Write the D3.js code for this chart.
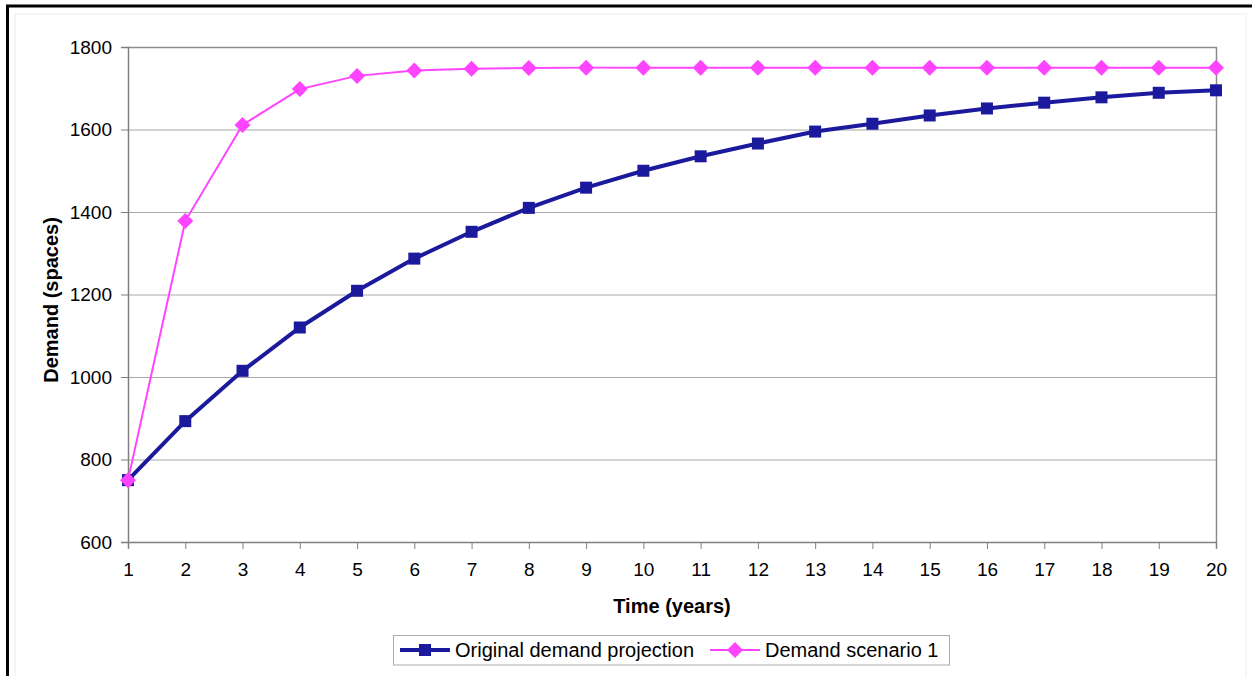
<!DOCTYPE html>
<html><head><meta charset="utf-8">
<script src="https://cdn.jsdelivr.net/npm/d3@7"></script>
<style>body{margin:0;background:#fff;}svg{display:block;font-family:"Liberation Sans",Arial,sans-serif;}</style>
</head><body>
<svg id="c" width="1252" height="676"></svg>
<script>
const years = [1,2,3,4,5,6,7,8,9,10,11,12,13,14,15,16,17,18,19,20];
const original = [750,893,1015,1120,1209,1287,1352,1410,1459,1500,1535,1566,1595,1614,1634,1651,1665,1678,1689,1695];
const scenario1 = [750,1378,1611,1698,1730,1743,1747,1749,1750,1750,1750,1750,1750,1750,1750,1750,1750,1750,1750,1750];
const yTicks = [600,800,1000,1200,1400,1600,1800];
const seriesNames = ["Original demand projection","Demand scenario 1"];

const svg = d3.select("#c");
// outer frames
svg.append("rect").attr("x",15).attr("y",14).attr("width",1231).attr("height",680).attr("fill","none").attr("stroke","#ececec").attr("stroke-width",1);
svg.append("path").attr("d","M7.5,700 V6 H1252").attr("fill","none").attr("stroke","#000").attr("stroke-width",3);

const L=128, T=47, R=1216, B=542;
const x = d3.scaleLinear().domain([1,20]).range([L,R]);
const y = d3.scaleLinear().domain([600,1800]).range([B,T]);

// grid
svg.append("g").selectAll("line").data(yTicks.slice(1)).join("line")
  .attr("x1",L).attr("x2",R).attr("y1",d=>y(d)+0.5).attr("y2",d=>y(d)+0.5)
  .attr("stroke","#a8a8a8").attr("stroke-width",1);
// plot frame top/right
svg.append("path").attr("d",`M${L},${T+0.5} H${R+0.5} V${B}`).attr("fill","none").attr("stroke","#8c8c8c").attr("stroke-width",1.5);

const ya = svg.append("g").attr("transform",`translate(${L},0)`)
  .call(d3.axisLeft(y).tickValues(yTicks).tickSize(7).tickPadding(9).tickFormat(d3.format("d")));
const xa = svg.append("g").attr("transform",`translate(0,${B})`)
  .call(d3.axisBottom(x).tickValues(years).tickSize(7).tickPadding(14).tickFormat(d3.format("d")));
[ya,xa].forEach(a=>{
  a.select(".domain").attr("stroke","#808080").attr("stroke-width",1.5);
  a.selectAll(".tick line").attr("stroke","#808080").attr("stroke-width",1);
  a.selectAll("text").attr("font-size",19).attr("fill","#000").attr("font-family","Liberation Sans, Arial, sans-serif");
});

// titles
svg.append("text").attr("x",(L+R)/2).attr("y",613).attr("text-anchor","middle")
  .attr("font-size",20).attr("font-weight","bold").text("Time (years)");
svg.append("text").attr("transform",`translate(58,300) rotate(-90)`).attr("text-anchor","middle")
  .attr("font-size",20).attr("font-weight","bold").text("Demand (spaces)");

const line = d3.line().x((d,i)=>x(years[i])).y(d=>y(d));
const navy="#1c1a9c", mag="#ff44ff";
svg.append("path").datum(scenario1).attr("d",line).attr("fill","none").attr("stroke",mag).attr("stroke-width",2);
svg.append("path").datum(original).attr("d",line).attr("fill","none").attr("stroke",navy).attr("stroke-width",4);
svg.append("g").selectAll("rect").data(original).join("rect")
  .attr("x",(d,i)=>x(years[i])-6).attr("y",d=>y(d)-6).attr("width",12).attr("height",12).attr("fill",navy);
const diamond = "M0,-8 L8,0 L0,8 L-8,0 Z";
svg.append("g").selectAll("path").data(scenario1).join("path")
  .attr("transform",(d,i)=>`translate(${x(years[i])},${y(d)})`).attr("d",diamond).attr("fill",mag);

// legend
const lg = svg.append("g");
lg.append("rect").attr("x",393.5).attr("y",635.5).attr("width",556).attr("height",29.5).attr("fill","#fff").attr("stroke","#aaa").attr("stroke-width",1);
lg.append("line").attr("x1",400).attr("x2",450).attr("y1",650).attr("y2",650).attr("stroke",navy).attr("stroke-width",4);
lg.append("rect").attr("x",419).attr("y",644).attr("width",12).attr("height",12).attr("fill",navy);
lg.append("text").attr("x",455).attr("y",657).attr("font-size",20).text(seriesNames[0]);
lg.append("line").attr("x1",710).attr("x2",760).attr("y1",650).attr("y2",650).attr("stroke",mag).attr("stroke-width",2);
lg.append("path").attr("transform","translate(735,650)").attr("d",diamond).attr("fill",mag);
lg.append("text").attr("x",765).attr("y",657).attr("font-size",20).text(seriesNames[1]);
</script>
</body></html>
